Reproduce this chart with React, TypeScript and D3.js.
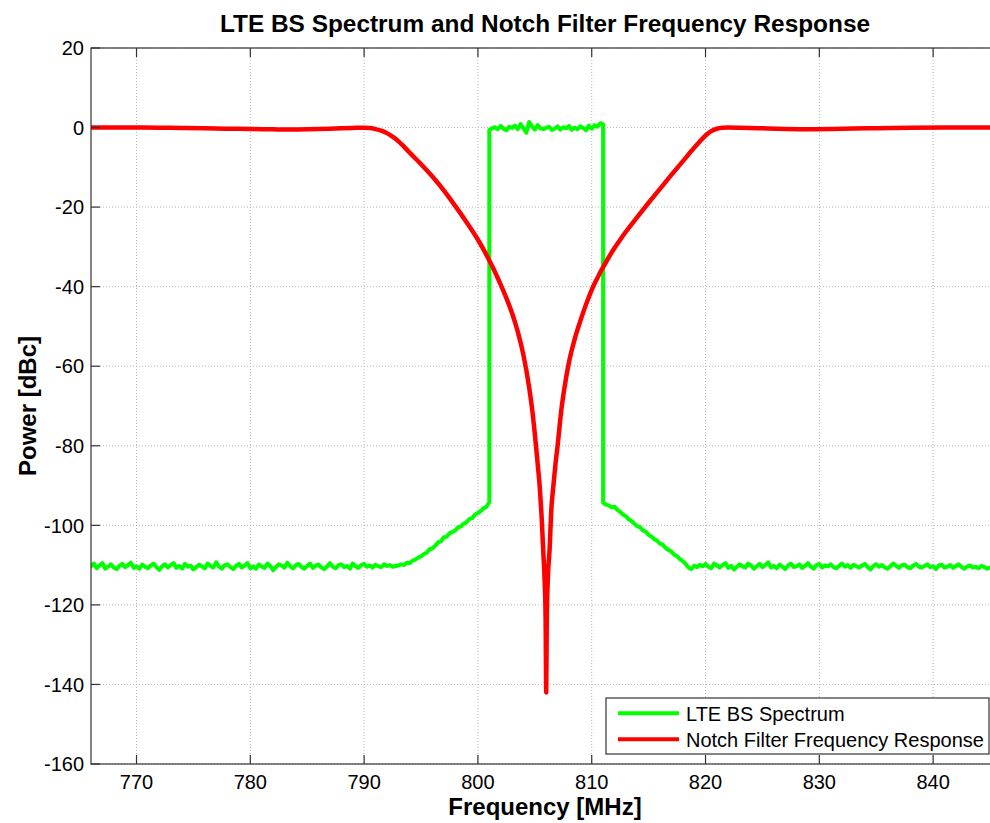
import React from 'react';
import * as d3 from 'd3';

// ---------- DATA ----------
const SPEC_STEP = 0.25; // MHz between spectrum samples

// LTE BS spectrum, split in segments (start frequency + sampled dBc values)
const floorLeftStart = 766;
const floorLeftDb = [
  -110.3,-109.6,-110.8,-110.1,-109.5,-110.9,-110.4,-109.8,-110.6,-111.0,
  -110.2,-109.7,-110.5,-110.0,-109.4,-110.7,-110.3,-110.9,-109.9,-110.4,
  -110.8,-110.1,-109.6,-110.5,-111.2,-110.3,-109.8,-110.6,-110.0,-109.5,
  -110.7,-110.2,-110.9,-109.7,-110.4,-110.1,-111.1,-110.5,-109.9,-110.3,
  -110.8,-109.6,-110.2,-110.6,-109.3,-110.4,-110.9,-110.0,-109.8,-110.5,
  -111.0,-110.2,-109.7,-110.6,-110.1,-109.5,-110.8,-110.3,-110.9,-109.9,
  -110.4,-110.7,-109.6,-110.2,-111.3,-110.5,-109.8,-110.1,-110.6,-109.4,
  -110.3,-110.8,-110.0,-109.7,-110.5,-110.9,-110.2,-109.6,-110.7,-110.1,
  -109.9,-110.6,-111.0,-110.3,-109.5,-110.4,-110.8,-110.0,-109.8,-110.5,
  -110.2,-110.9,-109.6,-110.3,-110.7,-110.0,-109.7,-110.4,-110.1,-110.6,
  -109.9,-110.3,-110.5,-109.8,-110.2,-110.0,-110.4,
];
const skirtLeftStart = 793;
const skirtLeftDb = [
  -110.1,-109.8,-110.0,-109.4,-109.5,-108.9,-108.6,-108.1,-107.8,-107.2,
  -106.9,-106.0,-105.8,-105.1,-104.3,-104.0,-103.0,-102.9,-102.0,-101.7,
  -101.3,-100.5,-100.3,-99.6,-99.2,-98.4,-98.2,-97.3,-96.9,-96.4,
  -95.7,-95.3,-94.2,
];
const inBandStart = 801;
const inBandDb = [
  -0.6,-0.2,0.1,-0.4,0.4,-0.3,-0.7,0.2,-0.1,0.5,
  -0.4,0.9,-0.2,-1.3,1.4,0.3,-0.5,0.6,-0.2,-0.4,
  -0.1,0.2,-0.6,-0.3,0.3,-0.5,0.1,-0.2,0.4,-0.6,
  0.0,-0.4,0.3,-0.1,-0.7,0.5,-0.3,0.6,0.2,1.1,
  0.8,
];
const skirtRightStart = 811;
const skirtRightDb = [
  -94.3,-94.8,-95.0,-95.5,-95.3,-96.1,-96.6,-97.3,-97.7,-98.5,
  -98.9,-99.6,-100.2,-100.5,-101.3,-101.6,-102.4,-102.8,-103.5,-103.9,
  -104.6,-104.9,-105.7,-106.2,-106.6,-107.4,-107.8,-108.5,-109.0,-109.7,
  -110.6,
];
const floorRightStart = 818.75;
const floorRightDb = [
  -111.0,-110.2,-110.5,-109.9,-110.3,-109.7,-110.4,-110.8,-109.6,-110.1,
  -110.6,-110.0,-109.5,-110.7,-110.2,-111.1,-110.4,-109.8,-110.3,-110.6,
  -109.6,-110.1,-110.9,-110.3,-109.7,-110.5,-110.0,-109.3,-110.6,-110.2,
  -110.8,-109.9,-110.4,-111.0,-110.1,-109.6,-110.5,-110.3,-109.8,-110.7,
  -110.2,-109.5,-110.4,-110.9,-110.0,-109.7,-110.6,-110.1,-110.3,-109.8,
  -110.5,-110.8,-110.2,-109.6,-110.4,-110.0,-110.7,-109.9,-110.3,-110.6,
  -110.1,-109.7,-110.5,-111.1,-110.2,-109.8,-110.4,-110.0,-110.6,-110.9,
  -110.3,-109.6,-110.2,-110.7,-110.0,-109.9,-110.5,-110.8,-110.1,-109.7,
  -110.4,-110.6,-110.2,-109.8,-110.5,-110.3,-111.0,-110.1,-109.9,-110.6,
  -110.4,-110.0,-110.7,-110.2,-109.8,-110.5,-110.9,-110.3,-110.1,-110.6,
  -110.4,-110.8,-110.2,-110.5,-110.9,-110.6,
];

// Notch filter frequency response
const notchFreq = [
  766, 768, 770, 772, 774, 776, 778, 780, 782, 783.5,
  785, 787, 789, 790, 790.5, 791, 791.5, 792, 792.5, 793,
  793.5, 794, 795, 796, 797, 798, 799, 800, 800.5, 801,
  801.5, 802, 802.5, 803, 803.5, 804, 804.5, 804.75, 805, 805.25,
  805.45, 805.6, 805.75, 805.85, 805.95, 806, 806.05, 806.15, 806.3, 806.45,
  806.6, 806.8, 807, 807.35, 807.6, 808, 808.5, 809, 809.5, 810,
  810.5, 811, 811.5, 812, 812.5, 813, 814, 815, 816, 817,
  818, 819, 819.5, 820, 820.5, 821, 821.5, 822, 823, 825,
  827, 829, 831, 833, 835, 838, 841, 844, 846,
];
const notchDb = [
  0, 0, 0, -0.05, -0.1, -0.2, -0.3, -0.35, -0.45, -0.5,
  -0.45, -0.3, -0.1, -0.02, -0.1, -0.4, -0.8, -1.4, -2.3, -3.4,
  -4.8, -6.3, -9.2, -12.3, -15.8, -19.7, -23.8, -28.2, -30.7, -33.4,
  -36.3, -39.5, -42.9, -46.7, -51.3, -57.2, -65.3, -70.5, -77, -84.5,
  -91, -98, -107, -113, -124, -142, -124, -113, -106, -96,
  -91, -85, -80, -70.5, -65.5, -59.0, -53.2, -48.6, -44.5, -40.8,
  -37.8, -35.1, -32.6, -30.3, -28.2, -26.2, -22.5, -18.9, -15.4, -11.9,
  -8.5, -5.1, -3.5, -2.0, -0.9, -0.3, -0.05, 0, -0.05, -0.2,
  -0.35, -0.4, -0.35, -0.25, -0.15, -0.05, 0, 0, 0,
];

const xTicks = [770, 780, 790, 800, 810, 820, 830, 840];
const yTicks = [-160, -140, -120, -100, -80, -60, -40, -20, 0, 20];
const xDomain = [766, 846];
const yDomain = [-160, 20];

const titleText = 'LTE BS Spectrum and Notch Filter Frequency Response';
const xLabelText = 'Frequency [MHz]';
const yLabelText = 'Power [dBc]';
const legendLabels = ['LTE BS Spectrum', 'Notch Filter Frequency Response'];
const seriesColors = ['#00ff00', '#ff0000'];

// ---------- CHART ----------
const W = 990;
const H = 823;
const FONT = "'Liberation Sans', Arial, Helvetica, sans-serif";

export default function App() {
  const left = 91, top = 48, bottom = 764;
  const pxPerMHz = 11.38;
  const right = left + (xDomain[1] - xDomain[0]) * pxPerMHz;
  const x = d3.scaleLinear().domain(xDomain).range([left, right]);
  const y = d3.scaleLinear().domain(yDomain).range([bottom, top]);

  const segments = [
    { start: floorLeftStart, values: floorLeftDb },
    { start: skirtLeftStart, values: skirtLeftDb },
    { start: inBandStart, values: inBandDb },
    { start: skirtRightStart, values: skirtRightDb },
    { start: floorRightStart, values: floorRightDb },
  ];
  const specPts: [number, number][] = segments.flatMap((s) =>
    s.values.map((v, i) => [s.start + i * SPEC_STEP, v] as [number, number])
  );
  const notchPts: [number, number][] = notchFreq.map((f, i) => [f, notchDb[i]]);

  const line = d3
    .line<[number, number]>()
    .x((d) => x(d[0]))
    .y((d) => y(d[1]));
  const smooth = d3
    .line<[number, number]>()
    .x((d) => x(d[0]))
    .y((d) => y(d[1]))
    .curve(d3.curveMonotoneX);

  const axisColor = '#333333';
  const gridColor = '#b8b8b8';
  const tickLen = 9;

  const legX = 606, legY = 698, legW = 383, legH = 56;

  return (
    <svg
      width={W}
      height={H}
      style={{ position: 'absolute', left: 0, top: 0, background: '#fff' }}
      fontFamily={FONT}
    >
      <rect x={0} y={0} width={W} height={H} fill="#fff" />
      <defs>
        <clipPath id="plotclip">
          <rect x={left} y={top} width={right - left} height={bottom - top} />
        </clipPath>
      </defs>
      {/* grid */}
      <g stroke={gridColor} strokeWidth={1} strokeDasharray="1,2">
        {xTicks.map((t) => (
          <line key={'gx' + t} x1={x(t)} x2={x(t)} y1={top} y2={bottom} />
        ))}
        {yTicks.map((t) => (
          <line key={'gy' + t} x1={left} x2={right} y1={y(t)} y2={y(t)} />
        ))}
      </g>
      {/* data */}
      <g clipPath="url(#plotclip)" fill="none" strokeLinejoin="round" strokeLinecap="round">
        <path d={line(specPts) || ''} stroke={seriesColors[0]} strokeWidth={4} />
        <path d={smooth(notchPts) || ''} stroke={seriesColors[1]} strokeWidth={4.5} />
      </g>
      {/* axes box + ticks */}
      <g stroke={axisColor} strokeWidth={1.2}>
        <rect x={left} y={top} width={right - left} height={bottom - top} fill="none" />
        {xTicks.map((t) => (
          <g key={'tx' + t}>
            <line x1={x(t)} x2={x(t)} y1={bottom} y2={bottom - tickLen} />
            <line x1={x(t)} x2={x(t)} y1={top} y2={top + tickLen} />
          </g>
        ))}
        {yTicks.map((t) => (
          <g key={'ty' + t}>
            <line x1={left} x2={left + tickLen} y1={y(t)} y2={y(t)} />
            <line x1={right} x2={right - tickLen} y1={y(t)} y2={y(t)} />
          </g>
        ))}
      </g>
      {/* tick labels */}
      <g fontSize={20} fill="#000">
        {xTicks.map((t) => (
          <text key={'lx' + t} x={x(t)} y={789} textAnchor="middle">
            {t}
          </text>
        ))}
        {yTicks.map((t) => (
          <text key={'ly' + t} x={84} y={y(t)} dy="0.36em" textAnchor="end">
            {t}
          </text>
        ))}
      </g>
      {/* title and axis labels */}
      <text x={545} y={32} textAnchor="middle" fontSize={24.4} fontWeight="bold">
        {titleText}
      </text>
      <text x={545} y={815} textAnchor="middle" fontSize={24} fontWeight="bold">
        {xLabelText}
      </text>
      <text
        transform={`translate(36, ${(top + bottom) / 2}) rotate(-90)`}
        textAnchor="middle"
        fontSize={24}
        fontWeight="bold"
      >
        {yLabelText}
      </text>
      {/* legend */}
      <g>
        <rect x={legX} y={legY} width={legW} height={legH} fill="#fff" stroke={axisColor} strokeWidth={1.2} />
        {legendLabels.map((lab, i) => {
          const ly = 713.3 + i * 26;
          return (
            <g key={lab}>
              <line x1={618} x2={679} y1={ly} y2={ly} stroke={seriesColors[i]} strokeWidth={4} />
              <text x={686} y={ly} dy="0.36em" fontSize={20} fill="#000">
                {lab}
              </text>
            </g>
          );
        })}
      </g>
    </svg>
  );
}
